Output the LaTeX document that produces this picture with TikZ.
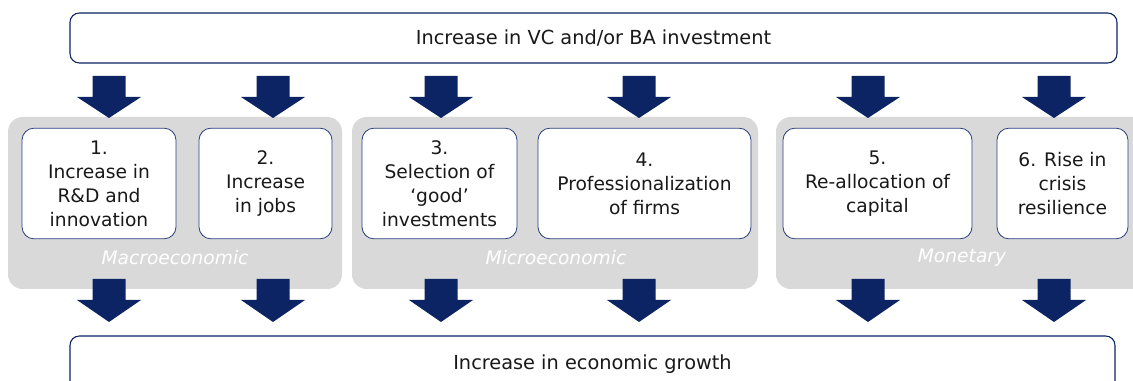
\documentclass[tikz,border=0pt]{standalone}
\usepackage{fontspec}
\setmainfont{DejaVu Sans}
\usepackage{xcolor}
\usetikzlibrary{positioning}

\definecolor{arrownavy}{RGB}{12,36,99}
\definecolor{boxline}{RGB}{40,60,125}
\definecolor{panelgray}{RGB}{217,217,217}

\tikzset{
  panel/.style={fill=panelgray, draw=none, rounded corners=11pt},
  effect/.style={draw=boxline, line width=0.6pt, fill=white, rounded corners=9pt,
    align=center, inner sep=0pt, minimum height=83pt},
  outcome/.style={draw=arrownavy, line width=0.8pt, fill=white, rounded corners=7pt,
    inner sep=0pt, font=\fontsize{14.5}{18}\selectfont},
  paneltitle/.style={text=white, font=\fontsize{14}{18}\itshape\selectfont},
  blockarrow/.style={fill=arrownavy, draw=none},
}

\begin{document}
\begin{tikzpicture}[x=0.75pt,y=0.75pt,yscale=-1,xscale=1,
  font=\fontsize{14}{18}\selectfont, text=black!90]
    \useasboundingbox (0,0) rectangle (1133,381);

    %Panels
    \draw [panel] (8,117) rectangle (342,289);
    \draw [panel] (352,117) rectangle (758,289);
    \draw [panel] (776,117) rectangle (1150,289);

    % Text Node
    \node [paneltitle] (macro) at (175,258) {Macroeconomic};
    % Text Node
    \node [paneltitle] (micro) at (556,258) {Microeconomic};
    % Text Node
    \node [paneltitle] (monetary) at (962,258) {Monetary};

    % Text Node
    \node [outcome, minimum width=785.25pt, minimum height=37.5pt] (invest) at (593.5,38)
      {Increase in VC and/or BA investment};
    % Text Node
    \node [outcome, minimum width=783.75pt, minimum height=42pt] (growth) at (592.5,364)
      {Increase in economic growth};

    % Text Node
    \node [effect, minimum width=115.5pt] (rnd) at (99,183.5)
      {1.\\Increase in\\R\&D and\\innovation};
    % Text Node
    \node [effect, minimum width=99.75pt] (jobs) at (265.5,183.5)
      {2.\\Increase\\in jobs};
    % Text Node
    \node [effect, minimum width=116.25pt] (selection) at (439.5,183.5)
      {3.\\Selection of\\‘good’\\investments};
    % Text Node
    \node [effect, minimum width=159.75pt] (profession) at (644.5,183.5)
      {4.\\Professionalization\\of firms};
    % Text Node
    \node [effect, minimum width=141.75pt] (realloc) at (877.5,183.5)
      {5.\\Re-allocation of\\capital};
    % Text Node
    \node [effect, minimum width=98.25pt] (resilience) at (1062.5,183.5)
      {6. Rise in\\crisis\\resilience};

    %Block Arrows (top row, then bottom row)
    \foreach \ax in {109,273,441,639,868,1054}{
      \fill [blockarrow, shift={(\ax,76)}] (-16.5,0) -- (16.5,0) -- (16.5,21) -- (32,21)
        -- (0,42) -- (-32,21) -- (-16.5,21) -- cycle;
      \fill [blockarrow, shift={(\ax,279)}] (-16.5,0) -- (16.5,0) -- (16.5,21) -- (32,21)
        -- (0,43) -- (-32,21) -- (-16.5,21) -- cycle;
    }

\end{tikzpicture}
\end{document}
